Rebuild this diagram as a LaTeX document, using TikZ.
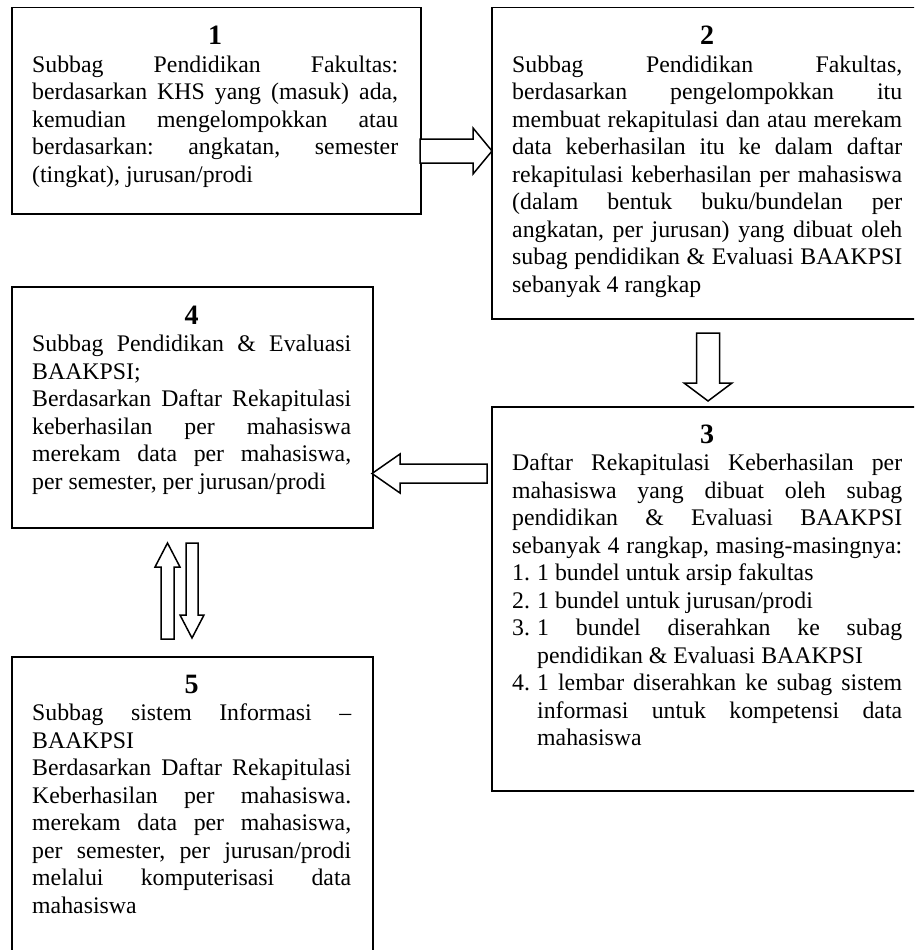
\documentclass[tikz,border=0pt]{standalone}
\usepackage{fontspec}
\setmainfont{Liberation Serif}
\hbadness=10000
\hfuzz=20pt
% one justified line, one left-aligned line, and the bold step number
\newcommand\jline[1]{\hbox to \linewidth{#1}}
\newcommand\lline[1]{\hbox to \linewidth{#1\hfil}}
\newcommand\numhead[1]{\hbox to \linewidth{\hfil\fontsize{28}{28}\bfseries\selectfont #1\hfil}}
% numbered list lines with a hanging indent
\newcommand\jitem[2]{\hbox to \linewidth{\hbox to 25pt{#1\hss}#2}}
\newcommand\litem[2]{\hbox to \linewidth{\hbox to 25pt{#1\hss}#2\hfil}}
\newcommand\jcont[1]{\hbox to \linewidth{\kern25pt #1}}
\newcommand\lcont[1]{\hbox to \linewidth{\kern25pt #1\hfil}}
\newenvironment{boxtext}[1]{\begin{minipage}[t]{#1pt}\fontsize{23.8}{27.5}\selectfont\frenchspacing}{\end{minipage}}

\begin{document}
\begin{tikzpicture}[x=1pt,y=-1pt,
  stepbox/.style={draw, line width=1.5pt, anchor=north west, inner sep=0pt},
  steptext/.style={anchor=base west, inner sep=0pt},
  blockarrow/.style={draw, line width=1.5pt, fill=white, line join=miter}]
\useasboundingbox (0,0) rectangle (914,950);
\clip (0,0) rectangle (914,950);
\fill[white] (0,0) rectangle (914,950);

% frames of the five steps
\node[stepbox, minimum width=409pt, minimum height=206pt] (b1) at (11,7) {};
\node[stepbox, minimum width=432pt, minimum height=311pt] (b2) at (491,7) {};
\node[stepbox, minimum width=432pt, minimum height=384pt] (b3) at (491,406) {};
\node[stepbox, minimum width=361pt, minimum height=241pt] (b4) at (11,286) {};
\node[stepbox, minimum width=361pt, minimum height=330pt] (b5) at (11,656) {};

% step 1
\node[steptext] (t1) at (32,45) {\begin{boxtext}{366}
\numhead{1}
\jline{Subbag Pendidikan Fakultas:}
\jline{berdasarkan KHS yang (masuk) ada,}
\jline{kemudian mengelompokkan atau}
\jline{berdasarkan: angkatan, semester}
\lline{(tingkat), jurusan/prodi}
\end{boxtext}};

% step 2
\node[steptext] (t2) at (512,45) {\begin{boxtext}{390}
\numhead{2}
\jline{Subbag Pendidikan Fakultas,}
\jline{berdasarkan pengelompokkan itu}
\jline{membuat rekapitulasi dan atau merekam}
\jline{data keberhasilan itu ke dalam daftar}
\jline{rekapitulasi keberhasilan per mahasiswa}
\jline{(dalam bentuk buku/bundelan per}
\jline{angkatan, per jurusan) yang dibuat oleh}
\jline{subag pendidikan \& Evaluasi BAAKPSI}
\lline{sebanyak 4 rangkap}
\end{boxtext}};

% step 3
\node[steptext] (t3) at (512,443) {\begin{boxtext}{390}
\numhead{3}
\jline{Daftar Rekapitulasi Keberhasilan per}
\jline{mahasiswa yang dibuat oleh subag}
\jline{pendidikan \& Evaluasi BAAKPSI}
\jline{sebanyak 4 rangkap, masing-masingnya:}
\litem{1.}{1 bundel untuk arsip fakultas}
\litem{2.}{1 bundel untuk jurusan/prodi}
\jitem{3.}{1 bundel diserahkan ke subag}
\lcont{pendidikan \& Evaluasi BAAKPSI}
\jitem{4.}{1 lembar diserahkan ke subag sistem}
\jcont{informasi untuk kompetensi data}
\lcont{mahasiswa}
\end{boxtext}};

% step 4
\node[steptext] (t4) at (32,324) {\begin{boxtext}{319}
\numhead{4}
\jline{Subbag Pendidikan \& Evaluasi}
\lline{BAAKPSI;}
\jline{Berdasarkan Daftar Rekapitulasi}
\jline{keberhasilan per mahasiswa}
\jline{merekam data per mahasiswa,}
\lline{per semester, per jurusan/prodi}
\end{boxtext}};

% step 5
\node[steptext] (t5) at (32,693) {\begin{boxtext}{319}
\numhead{5}
\jline{Subbag sistem Informasi –}
\lline{BAAKPSI}
\jline{Berdasarkan Daftar Rekapitulasi}
\jline{Keberhasilan per mahasiswa.}
\jline{merekam data per mahasiswa,}
\jline{per semester, per jurusan/prodi}
\jline{melalui komputerisasi data}
\lline{mahasiswa}
\end{boxtext}};

% block arrows between the steps
\draw[blockarrow] (420,139) -- (473,139) -- (473,128) -- (492,151) -- (473,174) -- (473,163) -- (420,163) -- cycle;
\draw[blockarrow] (696.5,333) -- (719.5,333) -- (719.5,383) -- (732,383) -- (708,401) -- (684,383) -- (696.5,383) -- cycle;
\draw[blockarrow] (487,464) -- (400,464) -- (400,454) -- (372,473.5) -- (400,493) -- (400,483) -- (487,483) -- cycle;
\draw[blockarrow] (161,639) -- (161,567) -- (155,567) -- (167.5,543) -- (180,567) -- (174,567) -- (174,639) -- cycle;
\draw[blockarrow] (186,543) -- (198,543) -- (198,615) -- (204,615) -- (192,638) -- (180,615) -- (186,615) -- cycle;
\end{tikzpicture}
\end{document}
